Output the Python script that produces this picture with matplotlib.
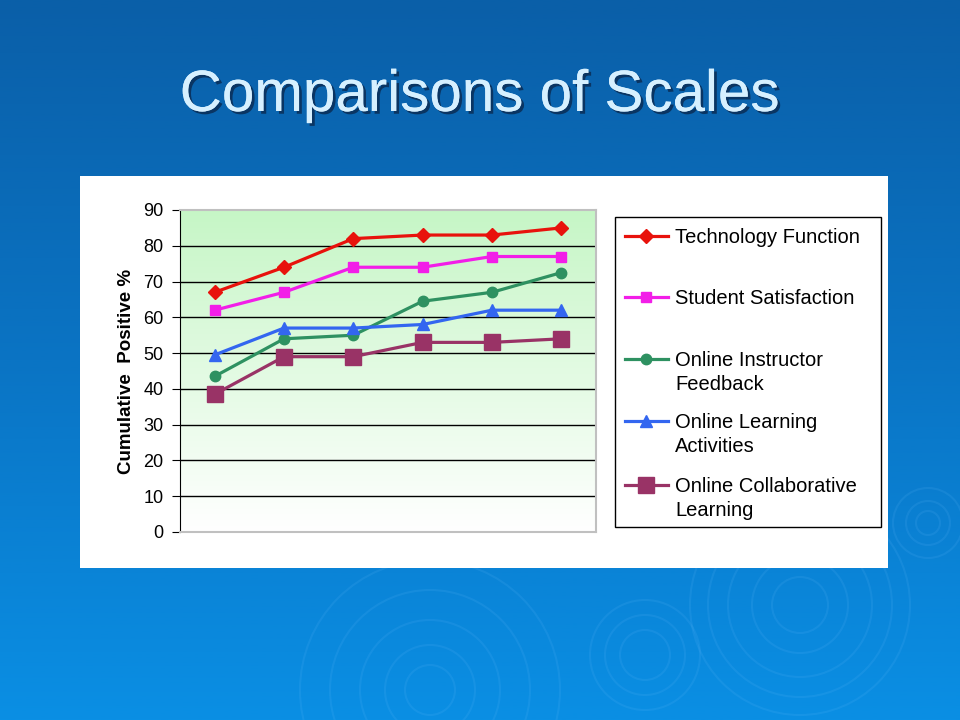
import matplotlib
matplotlib.use("Agg")
import matplotlib.pyplot as plt
import matplotlib.patheffects as pe
from matplotlib.patches import Rectangle, Circle
from matplotlib.lines import Line2D
from matplotlib.colors import LinearSegmentedColormap
import numpy as np

plt.rcParams['font.family'] = ['Liberation Sans', 'DejaVu Sans']

# data
points = [1, 2, 3, 4, 5, 6]
tech_function = [67, 74, 82, 83, 83, 85]
student_satisfaction = [62, 67, 74, 74, 77, 77]
instructor_feedback = [43.5, 54, 55, 64.5, 67, 72.5]
learning_activities = [49.5, 57, 57, 58, 62, 62]
collab_learning = [38.5, 49, 49, 53, 53, 54]

labels = ["Technology Function", "Student Satisfaction",
          "Online Instructor\nFeedback", "Online Learning\nActivities",
          "Online Collaborative\nLearning"]
series = [tech_function, student_satisfaction, instructor_feedback,
          learning_activities, collab_learning]
colors = ["#e8120c", "#f21ee8", "#2e9161", "#3366f0", "#993366"]
markers = ["D", "s", "o", "^", "s"]
msizes = [7, 7.5, 7.5, 8.5, 11]

W, H = 960, 720
fig = plt.figure(figsize=(9.6, 7.2), dpi=100)

def fx(px):
    return px / W

def fy(py):
    return 1 - py / H

# slide background, axes in pixel units so circles stay round
bg = fig.add_axes([0, 0, 1, 1])
bg.set_axis_off()
grad = np.linspace(0, 1, 256).reshape(-1, 1)
bgmap = LinearSegmentedColormap.from_list("bg", ["#0a5fa8", "#0a74c4", "#0a8fe4"])
bg.imshow(grad, aspect="auto", cmap=bgmap, extent=[0, W, H, 0], origin="upper")
bg.set_xlim(0, W)
bg.set_ylim(H, 0)

# faint ripples
ripples = [(800, 605, [110, 92, 72, 48, 28]), (645, 655, [55, 40, 25]),
           (430, 690, [130, 100, 70, 45, 25]), (928, 523, [35, 22, 12])]
for cx, cy, rads in ripples:
    for r in rads:
        bg.add_patch(Circle((cx, cy), r, fill=False, ec="#6fc0ff", lw=1.5, alpha=0.12))

# title
fig.text(0.5, fy(96), "Comparisons of Scales", ha="center", va="center",
         fontsize=42, color="#d6f0ff",
         path_effects=[pe.withSimplePatchShadow(offset=(2, -2), shadow_rgbFace="#0a2a50", alpha=0.8),
                       pe.Normal()])

# white chart box
fig.patches.append(Rectangle((fx(80), fy(568)), fx(888) - fx(80), fy(176) - fy(568),
                             transform=fig.transFigure, fc="white", ec="none", zorder=1))

# plot area
ax = fig.add_axes([fx(180), fy(532), fx(596) - fx(180), fy(210) - fy(532)])
ax.set_zorder(3)
green = LinearSegmentedColormap.from_list("g", ["#c6f6c6", "#ffffff"])
ax.imshow(grad, aspect="auto", cmap=green, extent=[0.5, 6.5, 0, 90],
          origin="upper", zorder=0)
ax.set_xlim(0.5, 6.5)
ax.set_ylim(0, 90)
ax.set_yticks(range(0, 91, 10))
ax.set_xticks([])
for y in range(10, 90, 10):
    ax.axhline(y, color="black", lw=1, zorder=1)

for vals, c, m, ms in zip(series, colors, markers, msizes):
    ax.plot(points, vals, color=c, lw=2.3, marker=m, markersize=ms,
            markeredgecolor=c, zorder=3, clip_on=False)

ax.spines["left"].set_color("black")
for s in ["top", "right", "bottom"]:
    ax.spines[s].set_color("#c0c0c0")
    ax.spines[s].set_linewidth(1.5)
ax.tick_params(axis="y", direction="out", length=6, labelsize=13, pad=6)
ax.set_ylabel("Cumulative  Positive %", fontsize=13.5, fontweight="bold", labelpad=6)

# legend box
fig.patches.append(Rectangle((fx(615), fy(527)), fx(881) - fx(615), fy(217) - fy(527),
                             transform=fig.transFigure, fc="white", ec="black",
                             lw=1, zorder=4))
first_lines = [236, 297, 359, 421, 485]
for lab, c, m, ms, py in zip(labels, colors, markers, msizes, first_lines):
    fig.lines.append(Line2D([fx(625), fx(668)], [fy(py), fy(py)],
                            transform=fig.transFigure, color=c, lw=2.3, zorder=5))
    fig.lines.append(Line2D([fx(646)], [fy(py)], transform=fig.transFigure,
                            marker=m, markersize=ms, color=c, zorder=6))
    fig.text(fx(675), fy(py - 8), lab, ha="left", va="top", fontsize=14.5,
             linespacing=1.3, zorder=6, transform=fig.transFigure)

fig.savefig("out.png", dpi=100)
